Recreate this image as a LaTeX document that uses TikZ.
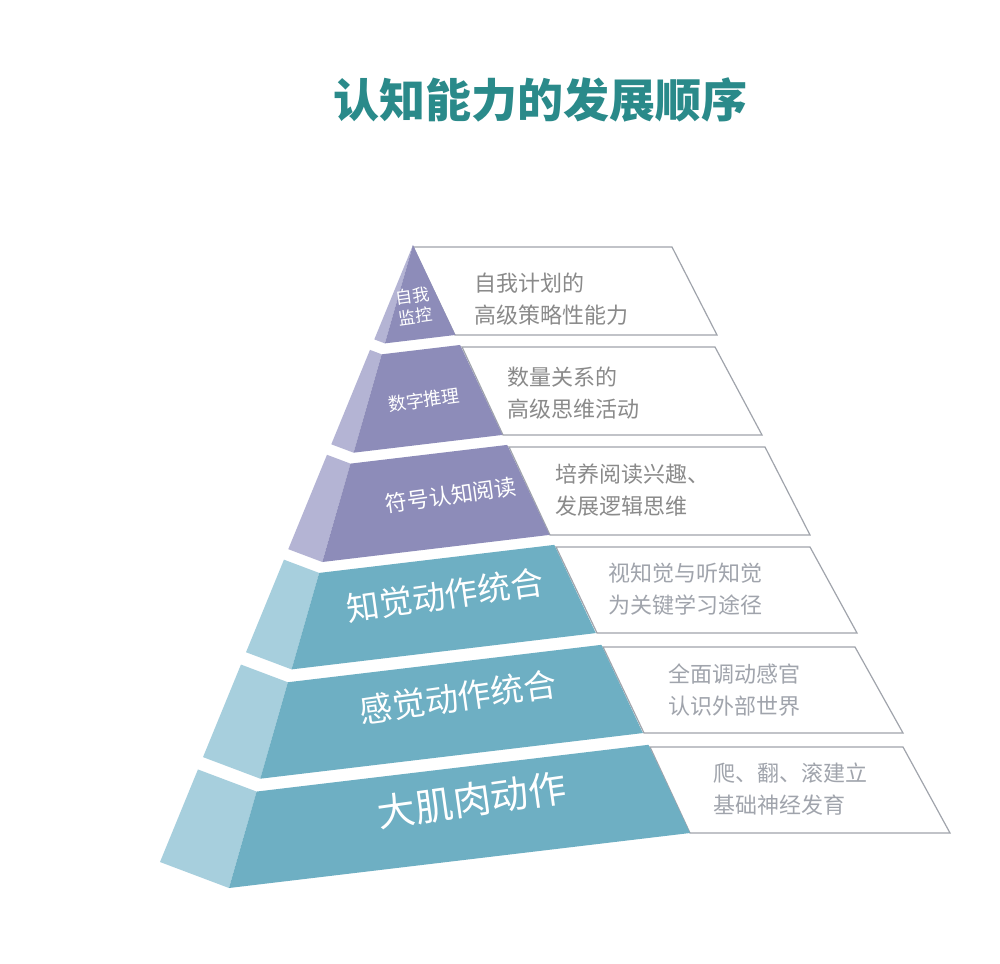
\documentclass[tikz,border=0pt]{standalone}
\usepackage{fontspec}
\newfontfamily\cjk{Noto Sans CJK SC}
\usetikzlibrary{calc}
\definecolor{pfront}{HTML}{8D8CB9}
\definecolor{pside}{HTML}{B4B4D4}
\definecolor{tfront}{HTML}{6EAFC3}
\definecolor{tside}{HTML}{A7CFDD}
\definecolor{ttl}{HTML}{2A8A8A}
\definecolor{btxt}{HTML}{8A8A8A}
\definecolor{bline}{HTML}{A0A4AC}
\tikzset{
  boxtxt/.style={anchor=west,align=left,text=btxt,font=\cjk\fontsize{22}{32}\selectfont,inner sep=0pt},
  lbl/.style={text=white,align=center,inner sep=0pt,rotate=8},
  infobox/.style={draw=bline,line width=1.2pt,fill=white}
}
\newcommand{\layer}[4]{%
  \fill[#3] ($(P)!#1!(L)$) -- ($(P)!#1!(R)$) -- ($(P)!#2!(R)$) -- ($(P)!#2!(L)$) -- cycle;
  \fill[#4] ($(P)!#1!(R)$) -- ($(P)!#1!(E)$) -- ($(P)!#2!(E)$) -- ($(P)!#2!(R)$) -- cycle;}
\begin{document}
\begin{tikzpicture}[x=1pt,y=-1pt]
\useasboundingbox[fill=white] (0,0) rectangle (1000,963);
\coordinate (P) at (413,245);
\coordinate (L) at (160,862);
\coordinate (R) at (229,888);
\coordinate (E) at (690,833);
\node[text=ttl,font=\cjk\bfseries\fontsize{46}{46}\selectfont] (title) at (540,100) {认知能力的发展顺序};
% boxes
\draw[infobox] (413,247) -- (672,247) -- (717,335) -- (455,335) -- cycle;
\draw[infobox] (462,347) -- (715,347) -- (762,435) -- (503,435) -- cycle;
\draw[infobox] (509,447) -- (765,447) -- (810,535) -- (550,535) -- cycle;
\draw[infobox] (556,547) -- (810,547) -- (857,633) -- (597,633) -- cycle;
\draw[infobox] (603,647) -- (855,647) -- (903,733) -- (644,733) -- cycle;
\draw[infobox] (650,747) -- (903,747) -- (950,833) -- (690,833) -- cycle;
% pyramid layers
\layer{0}{0.153}{pside}{pfront}
\layer{0.170}{0.323}{pside}{pfront}
\layer{0.340}{0.493}{pside}{pfront}
\layer{0.510}{0.660}{tside}{tfront}
\layer{0.680}{0.830}{tside}{tfront}
\layer{0.850}{1}{tside}{tfront}
% labels
\node[lbl,font=\cjk\fontsize{17}{21}\selectfont] (l1) at (414,306) {自我\\监控};
\node[lbl,font=\cjk\fontsize{18}{22}\selectfont] (l2) at (424,400) {数字推理};
\node[lbl,font=\cjk\fontsize{22}{26}\selectfont] (l3) at (451,495) {符号认知阅读};
\node[lbl,font=\cjk\fontsize{33}{36}\selectfont] (l4) at (445,595) {知觉动作统合};
\node[lbl,font=\cjk\fontsize{33}{36}\selectfont] (l5) at (458,697) {感觉动作统合};
\node[lbl,font=\cjk\fontsize{38}{40}\selectfont] (l6) at (472,800) {大肌肉动作};
% box texts
\node[boxtxt] (b1) at (474,299) {自我计划的\\高级策略性能力};
\node[boxtxt] (b2) at (507,393) {数量关系的\\高级思维活动};
\node[boxtxt] (b3) at (555,490) {培养阅读兴趣、\\发展逻辑思维};
\node[boxtxt,text=bline] (b4) at (608,589) {视知觉与听知觉\\为关键学习途径};
\node[boxtxt,text=bline] (b5) at (668,690) {全面调动感官\\认识外部世界};
\node[boxtxt,text=bline] (b6) at (713,789) {爬、翻、滚建立\\基础神经发育};
\end{tikzpicture}
\end{document}
